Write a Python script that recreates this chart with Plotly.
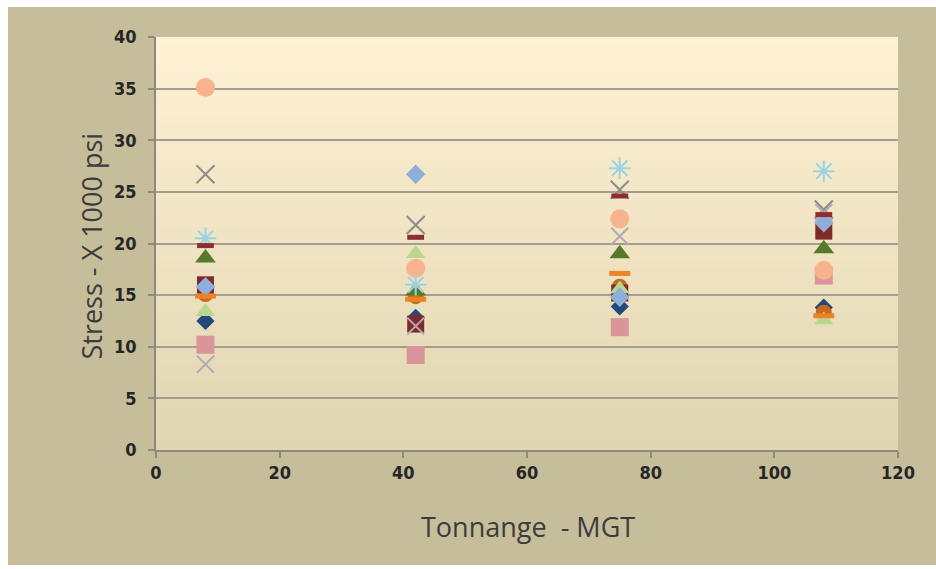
import plotly.graph_objects as go

# Tonnage positions (MGT) and measured stress (x 1000 psi) per gauge series
tonnage = [8, 42, 75, 108]

navy_diamond = [12.5, 12.8, 13.9, 13.8]
pink_square = [10.2, 9.2, 11.9, 16.9]
green_triangle = [18.6, 15.4, 19.0, 19.5]
gray_x = [26.7, 21.8, 25.2, 23.3]
cyan_star = [20.5, 16.0, 27.3, 27.0]
peach_circle = [35.1, 17.6, 22.4, 17.4]
darkred_square = [16.0, 12.2, 15.2, 21.2]
lightblue_diamond = [15.8, 26.7, 14.8, 22.0]
lightgreen_triangle = [13.4, 19.0, 15.6, 12.6]
lilac_x = [8.3, 12.0, 20.7, 23.0]
darkred_dash = [19.8, 20.6, 24.6, 22.8]
orange_dash = [14.9, 14.6, 17.1, 13.0]
orange_circle = [15.1, 14.9, 15.8, 13.3]

y_ticks = [0, 5, 10, 15, 20, 25, 30, 35, 40]
x_ticks = [0, 20, 40, 60, 80, 100, 120]

W, H = 936, 569
L, R, T, B = 156, 898, 37, 450

fig = go.Figure()

series = [
    ("navy_diamond", navy_diamond, "diamond", "#24487A", 14, 0),
    ("orange_circle", orange_circle, "circle", "#C9691C", 16, 0),
    ("pink_square", pink_square, "square", "#D9959A", 18, 0),
    ("darkred_square", darkred_square, "square", "#7E2A2A", 17, 0),
    ("lightgreen_triangle", lightgreen_triangle, "triangle-up", "#B9D78F", 17, 0),
    ("green_triangle", green_triangle, "triangle-up", "#557A2B", 18, 0),
    ("lightblue_diamond", lightblue_diamond, "diamond", "#8EAEDC", 15, 0),
    ("peach_circle", peach_circle, "circle", "#F8B38E", 19, 0),
    ("gray_x", gray_x, "x-thin-open", "#8F8C88", 18, 2),
    ("lilac_x", lilac_x, "x-thin-open", "#B4A9B4", 17, 2),
    ("cyan_star", cyan_star, "asterisk-open", "#9CD3E3", 18, 2),
    ("orange_dash", orange_dash, "line-ew-open", "#EE8226", 15, 5),
    ("darkred_dash", darkred_dash, "line-ew-open", "#8E2F2F", 12, 5),
]

for name, vals, sym, col, size, lw in series:
    if lw:
        marker = dict(symbol=sym, size=size, color=col, line=dict(color=col, width=lw))
    else:
        marker = dict(symbol=sym, size=size, color=col, line=dict(width=0))
    fig.add_trace(go.Scatter(x=tonnage, y=vals, mode="markers", name=name,
                             marker=marker, showlegend=False))


def px_x(p):
    return (p - L) / (R - L)


def px_y(p):
    return (B - p) / (B - T)


shapes = []
# vertical cream-to-tan gradient inside the plot area
top_rgb = (255, 241, 212)
bot_rgb = (224, 214, 178)
n = 48
for i in range(n):
    f = i / (n - 1)
    c = tuple(int(round(top_rgb[k] + (bot_rgb[k] - top_rgb[k]) * f)) for k in range(3))
    shapes.append(dict(type="rect", xref="x domain", yref="y domain",
                       x0=0, x1=1, y0=1 - (i + 1) / n - 0.002, y1=1 - i / n,
                       fillcolor="rgb(%d,%d,%d)" % c, line=dict(width=0), layer="below"))

# white frame around the tan chart area
for x0, x1, y0, y1 in [(0, 8, 0, H), (0, W, 0, 7), (0, W, 565, H)]:
    shapes.append(dict(type="rect", xref="paper", yref="paper",
                       x0=px_x(x0), x1=px_x(x1), y0=px_y(y1), y1=px_y(y0),
                       fillcolor="white", line=dict(width=0), layer="above"))

tick_font = dict(family="DejaVu Sans Condensed, Liberation Sans Narrow, Arial Narrow",
                 size=18, color="#262626", weight="bold")

title_font = dict(family="Open Sans, Lato, sans-serif", size=27, color="#3c3c3c")

fig.update_layout(
    width=W, height=H,
    margin=dict(l=L, r=W - R, t=T, b=H - B, autoexpand=False),
    paper_bgcolor="#C6BE9B",
    plot_bgcolor="#F6EBCB",
    shapes=shapes,
    xaxis=dict(range=[0, 120], tickvals=x_ticks, showgrid=False, zeroline=False,
               showline=True, linecolor="#8E8A7E", linewidth=1.5,
               ticks="outside", ticklen=6, tickcolor="#8E8A7E", tickwidth=1.5,
               tickfont=tick_font, fixedrange=True),
    yaxis=dict(range=[0, 40], tickvals=y_ticks, showgrid=True, gridcolor="#A39E90",
               gridwidth=2, zeroline=False, showline=True, linecolor="#8E8A7E",
               linewidth=1.5, ticks="outside", ticklen=6, tickcolor="#8E8A7E",
               tickwidth=1.5, tickfont=tick_font, ticklabelstandoff=8, fixedrange=True),
    annotations=[
        dict(text="Stress - X 1000 psi", xref="paper", yref="paper",
             x=px_x(71), y=px_y(246), textangle=-90, showarrow=False,
             font=title_font),
        dict(text="Tonnange  - MGT", xref="paper", yref="paper",
             x=px_x(528), y=px_y(547), showarrow=False,
             font=title_font),
    ],
)

fig.write_html("out.html")
